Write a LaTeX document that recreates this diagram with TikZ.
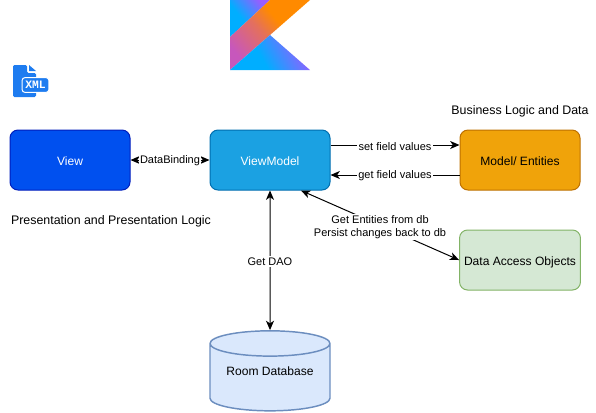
\documentclass[tikz,border=0pt]{standalone}
\usepackage{fontspec}
\setmainfont{Liberation Sans}
\setmonofont{Liberation Mono}
\usetikzlibrary{arrows.meta,shapes.geometric}
\definecolor{kblue}{HTML}{00AEFF}
\definecolor{kpurple}{HTML}{9A5CFF}
\definecolor{korange}{HTML}{FF8A00}
\definecolor{kpink}{HTML}{C757BC}
\definecolor{kmid}{HTML}{E4705C}
\definecolor{xmlblue}{HTML}{1E7CF0}
\definecolor{viewfill}{HTML}{0050EF}
\definecolor{viewline}{HTML}{001DBC}
\definecolor{vmfill}{HTML}{1BA1E2}
\definecolor{vmline}{HTML}{006EAF}
\definecolor{modelfill}{HTML}{F0A30A}
\definecolor{modelline}{HTML}{BD7000}
\definecolor{daofill}{HTML}{D5E8D4}
\definecolor{daoline}{HTML}{82B366}
\definecolor{dbfill}{HTML}{DAE8FC}
\definecolor{dbline}{HTML}{6C8EBF}
\pgfdeclarehorizontalshading{kband}{100bp}{color(0bp)=(kpink); color(25bp)=(kpink); color(47bp)=(kmid); color(60bp)=(korange); color(100bp)=(korange)}
\pgfdeclarehorizontalshading{kside}{100bp}{color(0bp)=(kblue); color(42bp)=(kblue); color(75bp)=(kpurple); color(100bp)=(kpurple)}
\tikzset{
  box/.style={draw, rounded corners=6pt, line width=.75pt, minimum width=90pt, minimum height=45pt, text height=8pt, text depth=0pt, font=\fontsize{9.05}{11}\selectfont},
  link/.style={line width=.75pt, {Stealth[inset=2pt,length=7pt,width=6pt]}-{Stealth[inset=2pt,length=7pt,width=6pt]}},
  onearrow/.style={line width=.75pt, -{Stealth[inset=2pt,length=7pt,width=6pt]}},
  lbl/.style={fill=white, inner sep=1pt, yshift=-.8pt, align=center, font=\fontsize{8.25}{10}\selectfont},
  note/.style={yshift=-.8pt, font=\fontsize{9.3}{11}\selectfont}
}
\begin{document}
\begin{tikzpicture}[x=.75pt,y=-.75pt]
\useasboundingbox (0,0) rectangle (596,412);
% logo
\begin{scope}[y=.75pt]
\shade[shading=kside, shading angle=40] (230,0) -- (270,0) -- (230,-37) -- cycle;
\shade[shading=kband, shading angle=40] (270,0) -- (310,0) -- (230,-70) -- (230,-37) -- cycle;
\shade[shading=kside, shading angle=30] (230,-70) -- (270,-35) -- (310,-70) -- cycle;
\end{scope}
% xml icon
\fill[xmlblue, rounded corners=1pt] (13,65) -- (27,65) -- (27,73) -- (36,73) -- (36,97) -- (13,97) -- cycle;
\fill[xmlblue] (29,65) -- (36,71) -- (29,71) -- cycle;
\node[draw=white, fill=xmlblue, rounded corners=2pt, line width=.75pt, text=white, minimum width=20pt, minimum height=11pt, inner sep=0pt, font=\fontsize{8.5}{8.5}\selectfont\ttfamily\bfseries] (xml) at (35.5,85) {XML};
% boxes
\node[box, fill=viewfill, draw=viewline, text=white] (view) at (70,160) {View};
\node[box, fill=vmfill, draw=vmline, text=white] (vm) at (270,160) {ViewModel};
\node[box, fill=modelfill, draw=modelline] (model) at (520,160) {Model/ Entities};
\node[box, fill=daofill, draw=daoline] (dao) at (520,260) {Data Access Objects};
\node[cylinder, shape border rotate=90, aspect=.29, draw=dbline, fill=dbfill, line width=1.1pt, minimum width=90pt, minimum height=60pt, inner sep=0pt, font=\fontsize{9.05}{11}\selectfont] (db) at (270,377.5) {\phantom{Room Database}};
\node[font=\fontsize{9.05}{11}\selectfont, inner sep=0pt] (dbname) at (270,371) {Room Database};
% titles
\node[note] (biz) at (520,110) {Business Logic and Data};
\node[note] (pres) at (111,220) {Presentation and Presentation Logic};
% arrows
\draw[link] (view.east) -- node[lbl] (bind) {DataBinding} (vm.west);
\draw[onearrow] ([yshift=11.25pt]vm.east) -- node[lbl] (setv) {set field values} ([yshift=11.25pt]model.west);
\draw[onearrow] ([yshift=-11.25pt]model.west) -- node[lbl] (getv) {get field values} ([yshift=-11.25pt]vm.east);
\draw[link] (vm.south) -- node[lbl] (getdao) {Get DAO} (db.north);
\draw[link] ([xshift=23.25pt]vm.south) -- node[lbl, pos=.5, yshift=-.6pt] (ent) {Get Entities from db\\Persist changes back to db} (dao.west);
\end{tikzpicture}
\end{document}
